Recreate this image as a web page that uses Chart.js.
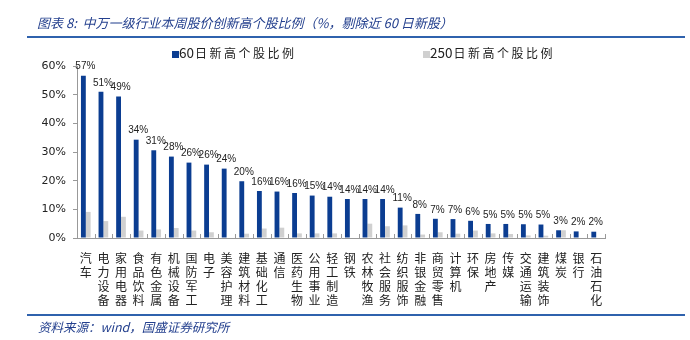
<!DOCTYPE html>
<html>
<head>
<meta charset="utf-8">
<script src="https://cdn.jsdelivr.net/npm/chart.js@4"></script>
<style>
  body { margin: 0; background: #fff; }
  #wrap { position: relative; width: 690px; height: 340px; overflow: hidden; }
  canvas { position: absolute; left: 0; top: 0; }
  .title { position: absolute; left: 37px; top: 13px; font: italic 13px "Noto Sans CJK SC", sans-serif; color: #24408e; white-space: nowrap; }
  .rule { position: absolute; left: 27px; width: 658px; height: 2px; background: #2f62ad; }
  .legend { position: absolute; top: 42px; font: 12px "Noto Sans CJK SC", sans-serif; letter-spacing: 2.5px; color: #222; white-space: nowrap; }
  .legend b { font-weight: normal; font-size: 13.5px; letter-spacing: 0; margin-right: 1px; }
  .legend i { display: inline-block; width: 7px; height: 7px; margin-right: 0px; vertical-align: 0px; }
  .source { position: absolute; left: 38px; top: 317px; font: italic 12.5px "Noto Sans CJK SC", sans-serif; color: #24408e; white-space: nowrap; }
</style>
</head>
<body>
<div id="wrap">
  <canvas id="c" width="690" height="340"></canvas>
  <div class="title">图表 8:&nbsp; 中万一级行业本周股价创新高个股比例（%，剔除近 60 日新股）</div>
  <div class="rule" style="top:36px"></div>
  <div class="legend" style="left:172px"><i style="background:#0b3d91"></i><b>60</b>日新高个股比例</div>
  <div class="legend" style="left:423px"><i style="background:#d0d0d0"></i><b>250</b>日新高个股比例</div>
  <div class="rule" style="top:314px"></div>
  <div class="source">资料来源：wind，国盛证券研究所</div>
</div>
<script>
var categories = ['汽车', '电力设备', '家用电器', '食品饮料', '有色金属', '机械设备', '国防军工', '电子',
    '美容护理', '建筑材料', '基础化工', '通信', '医药生物', '公用事业', '轻工制造', '钢铁',
    '农林牧渔', '社会服务', '纺织服饰', '非银金融', '商贸零售', '计算机', '环保', '房地产',
    '传媒', '交通运输', '建筑装饰', '煤炭', '银行', '石油石化'];

var high60 = [56.6, 51.0, 49.4, 34.3, 30.6, 28.4, 26.3, 25.6, 24.2, 19.8, 16.4, 16.2, 15.7, 14.8, 14.4, 13.6,
    13.6, 13.6, 10.6, 8.4, 6.7, 6.6, 6.0, 4.9, 4.9, 4.8, 4.7, 2.7, 2.3, 2.2];

var high250 = [9.1, 5.9, 7.4, 2.6, 3.0, 3.5, 2.6, 2.0, 0, 1.5, 3.3, 3.6, 1.6, 1.6, 1.6, 0,
    5.0, 4.1, 4.4, 1.2, 2.0, 1.5, 2.6, 1.6, 1.4, 0.9, 0.8, 2.7, 0, 0];

var yTicks = [0, 10, 20, 30, 40, 50, 60];

// each category label is written top to bottom, one character per line
var vertLabels = categories.map(function(c) { return c.split(''); });

// value labels above the blue bars + small inside ticks on the x axis
var extras = {
    id: 'extras',
    afterDatasetsDraw: function(chart) {
        var ctx = chart.ctx;
        var meta = chart.getDatasetMeta(0);
        ctx.save();
        ctx.fillStyle = '#222';
        ctx.font = '10px "Liberation Sans", Arial, sans-serif';
        ctx.textAlign = 'center';
        ctx.textBaseline = 'bottom';
        meta.data.forEach(function(bar, i) {
            ctx.fillText(Math.round(high60[i]) + '%', bar.x + 2, bar.y - 4);
        });

        var xs = chart.scales.x;
        var step = (xs.right - xs.left) / categories.length;
        ctx.strokeStyle = '#999';
        ctx.lineWidth = 1;
        ctx.beginPath();
        for (var i = 1; i <= categories.length; i++) {
            var px = Math.round(xs.left + i * step) + 0.5;
            ctx.moveTo(px, xs.top);
            ctx.lineTo(px, xs.top - 4);
        }
        ctx.stroke();
        ctx.restore();
    }
};

new Chart(document.getElementById('c'), {
    type: 'bar',
    data: {
        labels: vertLabels,
        datasets: [{
            label: '60日新高个股比例',
            data: high60,
            backgroundColor: '#0b3d91',
            categoryPercentage: 0.55,
            barPercentage: 1.0
        }, {
            label: '250日新高个股比例',
            data: high250,
            backgroundColor: '#d0d0d0',
            categoryPercentage: 0.55,
            barPercentage: 1.0
        }]
    },
    options: {
        responsive: false,
        animation: false,
        layout: { padding: { top: 66, right: 85, left: 0, bottom: 0 } },
        plugins: {
            legend: { display: false },
            tooltip: { enabled: false }
        },
        scales: {
            x: {
                grid: { display: false },
                border: { display: true, color: '#999' },
                ticks: {
                    color: '#222',
                    maxRotation: 0,
                    autoSkip: false,
                    padding: 6,
                    font: { family: '"Noto Sans CJK SC", sans-serif', size: 12, lineHeight: 1.15 }
                },
                afterFit: function(scale) { scale.height = 102; }
            },
            y: {
                min: 0,
                max: 60,
                afterBuildTicks: function(scale) {
                    scale.ticks = yTicks.map(function(v) { return { value: v }; });
                },
                grid: { drawOnChartArea: false, drawTicks: true, tickLength: 4, color: '#999' },
                border: { display: true, color: '#999' },
                ticks: {
                    color: '#222',
                    padding: 7,
                    font: { family: '"DejaVu Sans", sans-serif', size: 11 },
                    callback: function(v) { return v + '%'; }
                },
                afterFit: function(scale) { scale.width = 77; }
            }
        }
    },
    plugins: [extras]
});
</script>
</body>
</html>
